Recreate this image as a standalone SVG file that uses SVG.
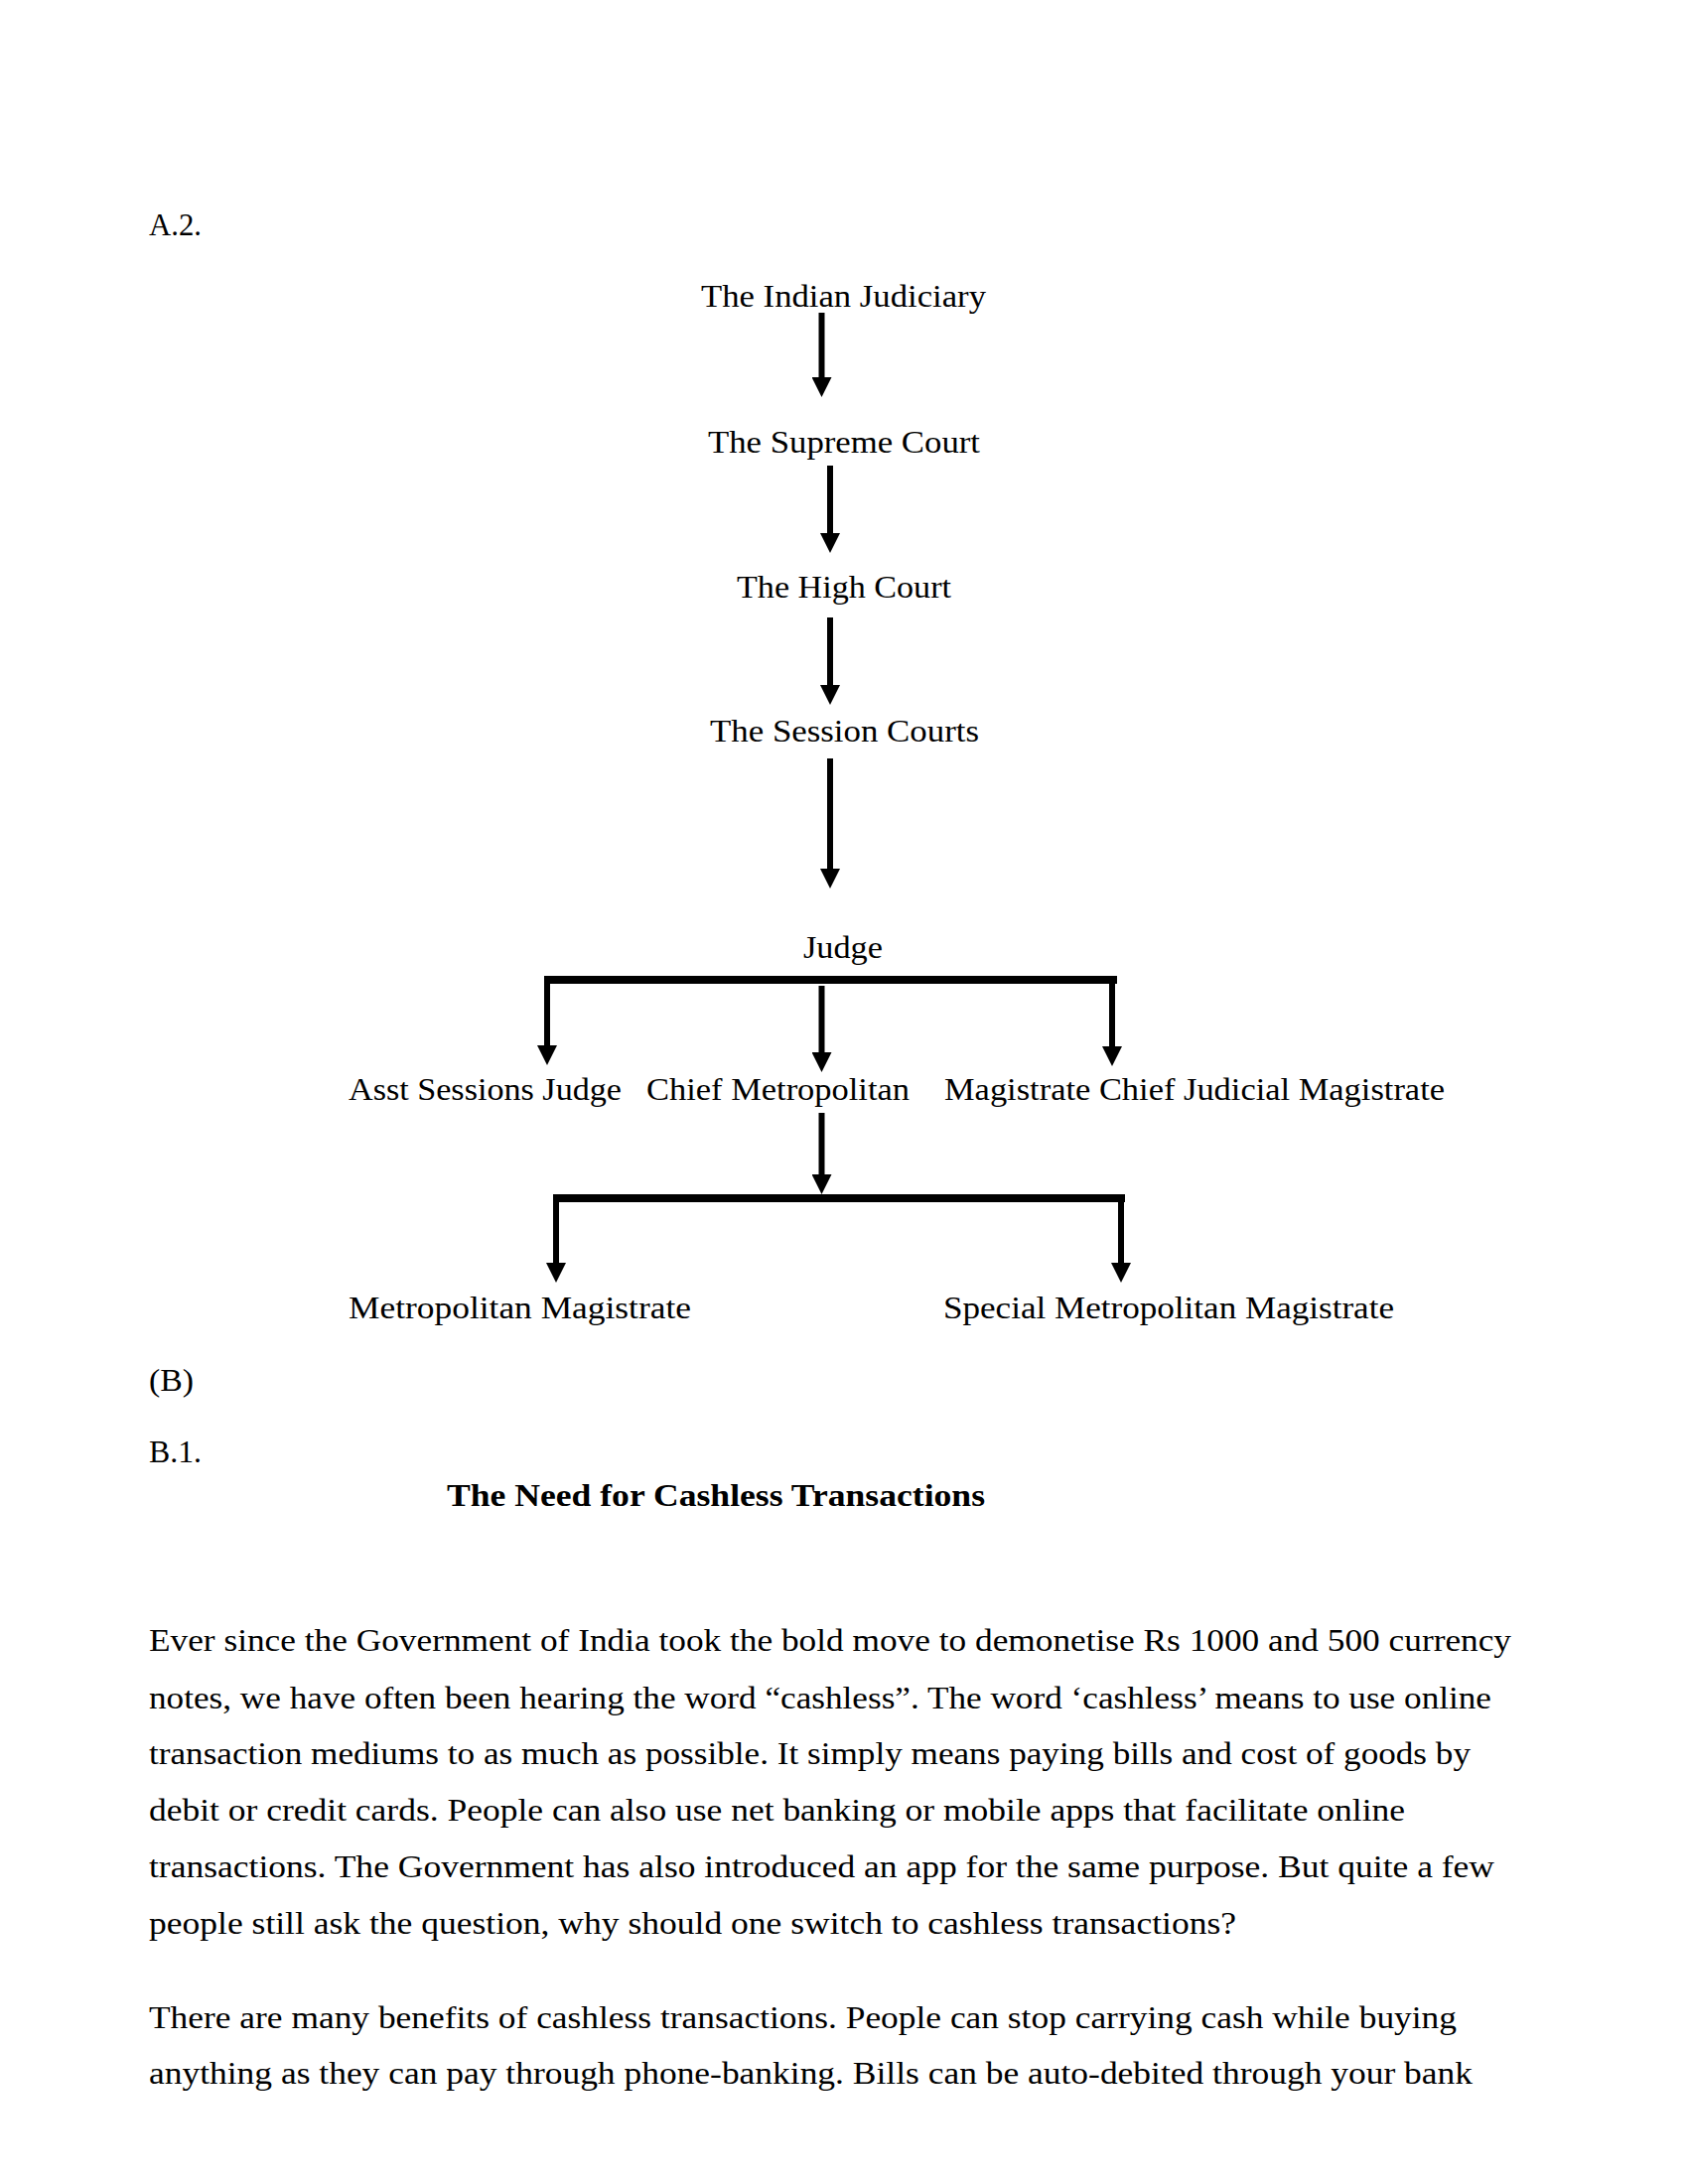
<svg xmlns="http://www.w3.org/2000/svg" width="1700" height="2200" viewBox="0 0 1700 2200">
<style>
text{font-family:"Liberation Serif","Times New Roman",serif;font-size:30.5px;fill:#000}
.b{font-weight:bold}
.ln{stroke:#000;stroke-width:6;fill:none}
.bar{fill:#000}
</style>
<defs>
<marker id="ah" viewBox="0 0 20 20" refX="0" refY="10" markerWidth="20" markerHeight="20" markerUnits="userSpaceOnUse" orient="auto">
<path d="M0,0 L20,10 L0,20 z" fill="#000"/>
</marker>
</defs>
<rect width="1700" height="2200" fill="#fff"/>
<text x="150" y="237" textLength="53" lengthAdjust="spacingAndGlyphs">A.2.</text>
<g id="n-judiciary"><text x="706" y="309" textLength="287" lengthAdjust="spacingAndGlyphs">The Indian Judiciary</text></g>
<g id="n-supreme"><text x="713" y="456" textLength="274" lengthAdjust="spacingAndGlyphs">The Supreme Court</text></g>
<g id="n-high"><text x="742" y="602" textLength="216" lengthAdjust="spacingAndGlyphs">The High Court</text></g>
<g id="n-session"><text x="715" y="747" textLength="271" lengthAdjust="spacingAndGlyphs">The Session Courts</text></g>
<g id="n-judge"><text x="809" y="965" textLength="80" lengthAdjust="spacingAndGlyphs">Judge</text></g>
<g id="n-asst"><text x="351" y="1108" textLength="275" lengthAdjust="spacingAndGlyphs">Asst Sessions Judge</text></g>
<g id="n-chief"><text x="651" y="1108" textLength="265" lengthAdjust="spacingAndGlyphs">Chief Metropolitan</text></g>
<g id="n-cjm"><text x="951" y="1108" textLength="504" lengthAdjust="spacingAndGlyphs">Magistrate Chief Judicial Magistrate</text></g>
<g id="n-metro"><text x="351" y="1328" textLength="345" lengthAdjust="spacingAndGlyphs">Metropolitan Magistrate</text></g>
<g id="n-special"><text x="950" y="1328" textLength="454" lengthAdjust="spacingAndGlyphs">Special Metropolitan Magistrate</text></g>
<g id="connectors">
<line class="ln" x1="827.5" y1="315" x2="827.5" y2="380" marker-end="url(#ah)"/>
<line class="ln" x1="836" y1="469" x2="836" y2="537" marker-end="url(#ah)"/>
<line class="ln" x1="836" y1="622" x2="836" y2="690" marker-end="url(#ah)"/>
<line class="ln" x1="836" y1="764" x2="836" y2="875" marker-end="url(#ah)"/>
<rect class="bar" x="548" y="983" width="577" height="8"/>
<line class="ln" x1="551" y1="987" x2="551" y2="1053" marker-end="url(#ah)"/>
<line class="ln" x1="827.5" y1="993" x2="827.5" y2="1060" marker-end="url(#ah)"/>
<line class="ln" x1="1120" y1="987" x2="1120" y2="1054" marker-end="url(#ah)"/>
<line class="ln" x1="827.5" y1="1121" x2="827.5" y2="1183" marker-end="url(#ah)"/>
<rect class="bar" x="557" y="1203" width="576" height="8"/>
<line class="ln" x1="560" y1="1207" x2="560" y2="1272" marker-end="url(#ah)"/>
<line class="ln" x1="1129" y1="1207" x2="1129" y2="1272" marker-end="url(#ah)"/>
</g>
<text x="150" y="1401" textLength="45" lengthAdjust="spacingAndGlyphs">(B)</text>
<text x="150" y="1473" textLength="53" lengthAdjust="spacingAndGlyphs">B.1.</text>
<text class="b" x="450" y="1517" textLength="542" lengthAdjust="spacingAndGlyphs">The Need for Cashless Transactions</text>
<text x="150" y="1663" textLength="1372" lengthAdjust="spacingAndGlyphs">Ever since the Government of India took the bold move to demonetise Rs 1000 and 500 currency</text>
<text x="150" y="1721" textLength="1352" lengthAdjust="spacingAndGlyphs">notes, we have often been hearing the word “cashless”. The word ‘cashless’ means to use online</text>
<text x="150" y="1777" textLength="1331" lengthAdjust="spacingAndGlyphs">transaction mediums to as much as possible. It simply means paying bills and cost of goods by</text>
<text x="150" y="1834" textLength="1265" lengthAdjust="spacingAndGlyphs">debit or credit cards. People can also use net banking or mobile apps that facilitate online</text>
<text x="150" y="1891" textLength="1355" lengthAdjust="spacingAndGlyphs">transactions. The Government has also introduced an app for the same purpose. But quite a few</text>
<text x="150" y="1948" textLength="1095" lengthAdjust="spacingAndGlyphs">people still ask the question, why should one switch to cashless transactions?</text>
<text x="150" y="2043" textLength="1317" lengthAdjust="spacingAndGlyphs">There are many benefits of cashless transactions. People can stop carrying cash while buying</text>
<text x="150" y="2099" textLength="1333" lengthAdjust="spacingAndGlyphs">anything as they can pay through phone-banking. Bills can be auto-debited through your bank</text>
</svg>
